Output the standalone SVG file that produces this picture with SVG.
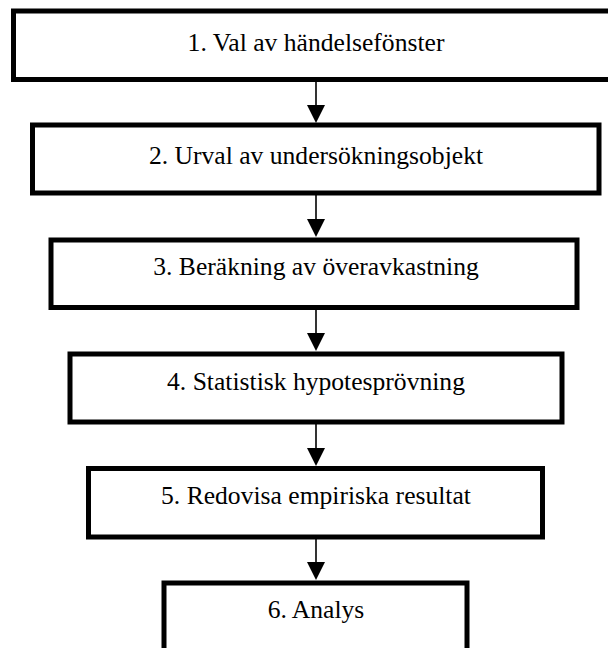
<svg xmlns="http://www.w3.org/2000/svg" width="608" height="648" viewBox="0 0 608 648">
<style>
.box{fill:#fff;stroke:#000;stroke-width:5}
.lbl{font-family:"Liberation Serif","Times New Roman",serif;font-size:25.6px;fill:#000;text-anchor:middle}
.conn{stroke:#000;stroke-width:1.6;fill:none}
.head{fill:#000}
</style>
<rect width="608" height="648" fill="#fff"/>
<g id="connectors">
<line class="conn" x1="316" y1="82" x2="316" y2="105"/>
<path class="head" d="M307,105 L325,105 L316,123 Z"/>
<line class="conn" x1="316" y1="195" x2="316" y2="219"/>
<path class="head" d="M307,219 L325,219 L316,237 Z"/>
<line class="conn" x1="316" y1="310" x2="316" y2="333"/>
<path class="head" d="M307,333 L325,333 L316,351 Z"/>
<line class="conn" x1="316" y1="424" x2="316" y2="448"/>
<path class="head" d="M307,448 L325,448 L316,466 Z"/>
<line class="conn" x1="316" y1="539" x2="316" y2="562"/>
<path class="head" d="M307,562 L325,562 L316,580 Z"/>
</g>
<g id="n1"><rect class="box" x="13.5" y="11" width="605" height="68.5"/><text class="lbl" x="316" y="51">1. Val av händelsefönster</text></g>
<g id="n2"><rect class="box" x="32.5" y="125" width="566.5" height="68"/><text class="lbl" x="316" y="164">2. Urval av undersökningsobjekt</text></g>
<g id="n3"><rect class="box" x="51" y="240" width="526" height="67.5"/><text class="lbl" x="316" y="275">3. Beräkning av överavkastning</text></g>
<g id="n4"><rect class="box" x="70" y="354" width="492" height="68"/><text class="lbl" x="316" y="390">4. Statistisk hypotesprövning</text></g>
<g id="n5"><rect class="box" x="88.5" y="468.5" width="454" height="68.5"/><text class="lbl" x="316" y="504">5. Redovisa empiriska resultat</text></g>
<g id="n6"><rect class="box" x="164" y="583" width="303" height="80"/><text class="lbl" x="316" y="618">6. Analys</text></g>
</svg>
